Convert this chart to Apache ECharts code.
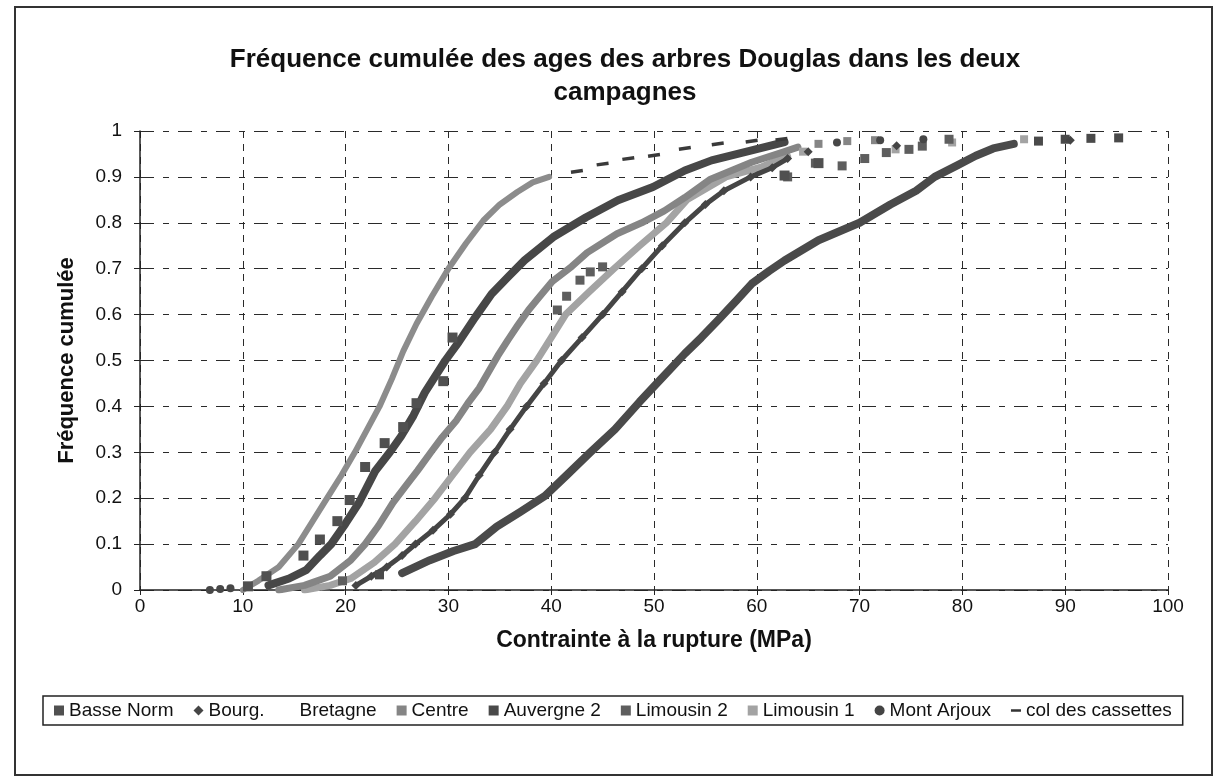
<!DOCTYPE html>
<html><head><meta charset="utf-8">
<script src="https://cdn.jsdelivr.net/npm/echarts@6/dist/echarts.min.js"></script>
<style>html,body{margin:0;padding:0;background:#fff}#c{width:1224px;height:782px}</style>
</head><body><div id="c"></div>
<script>
// ---- data: [contrainte MPa, fréquence cumulée] ----
const seriesNames = ['Basse Norm','Bourg.','Bretagne','Centre','Auvergne 2','Limousin 2','Limousin 1','Mont Arjoux','col des cassettes'];

const basseNorm = [[10.5,0.008],[12.3,0.03],[15.9,0.075],[17.5,0.11],[19.2,0.15],[20.4,0.196],[21.9,0.268],[23.8,0.32],[25.6,0.355],[26.9,0.407],[29.5,0.455],[30.4,0.55],[62.7,0.903],[66,0.93]];

const bourg = [[21,0.01],[22.5,0.03],[24,0.05],[25.5,0.075],[26.8,0.1],[28.5,0.13],[30.2,0.165],[31.6,0.2],[33,0.25],[34.5,0.3],[36,0.35],[37.6,0.4],[39.3,0.45],[41,0.5],[43,0.55],[45,0.6],[46.9,0.65],[48.8,0.7],[50.8,0.75],[53,0.8],[55,0.84],[56.8,0.87],[59.4,0.9],[61.5,0.92],[63,0.94]];
const bourgTail = [[65,0.955],[73.6,0.968],[90.5,0.98]];

const bretagne = [];

const centre = [[13.5,0],[16,0.01],[18.5,0.03],[20.5,0.065],[21.9,0.1],[23.2,0.14],[24.6,0.19],[25.8,0.225],[27,0.26],[28.3,0.3],[29.4,0.333],[30.8,0.37],[31.9,0.407],[33,0.44],[33.9,0.475],[34.8,0.51],[35.8,0.545],[36.7,0.575],[37.8,0.61],[38.9,0.64],[40.1,0.672],[42,0.705],[43.5,0.735],[46.4,0.776],[48.8,0.8],[51,0.826],[53,0.855],[55.5,0.895],[59.5,0.932],[62.7,0.955],[64,0.965]];
const centreTail = [[66,0.972],[68.8,0.978],[71.5,0.98]];

const auvergne2 = [[25.5,0.037],[28.2,0.065],[30.5,0.085],[32.6,0.1],[34.7,0.138],[37,0.17],[39.4,0.205],[41.5,0.25],[43.8,0.3],[46.2,0.35],[48.6,0.41],[50.7,0.46],[53,0.515],[54.6,0.55],[56.2,0.587],[58,0.63],[59.5,0.667],[61.2,0.695],[62.7,0.718],[66,0.762],[70,0.8],[73,0.84],[75.5,0.87],[77.3,0.9],[79.5,0.925],[81.3,0.946],[83,0.962],[85,0.972]];
const auvergne2Tail = [[23.3,0.033],[87.4,0.978],[90,0.982],[92.5,0.984],[95.2,0.985]];

const limousin2 = [[19.7,0.02],[40.6,0.61],[41.5,0.64],[42.8,0.675],[43.8,0.693],[45,0.704],[63,0.9],[65.7,0.93],[68.3,0.924],[70.5,0.94],[72.6,0.953],[74.8,0.96],[76.1,0.967],[78.7,0.982]];

const limousin1 = [[16,0],[18.5,0.01],[20.5,0.025],[22.8,0.06],[24.8,0.1],[26.8,0.15],[28.7,0.2],[30.4,0.25],[32.1,0.3],[34.1,0.35],[35.7,0.4],[37,0.45],[38.6,0.5],[40,0.55],[41.4,0.6],[43.7,0.65],[46.1,0.7],[48.6,0.75],[51.2,0.8],[53.2,0.85],[57,0.9],[60.5,0.922],[63,0.945]];
const limousin1Tail = [[64.5,0.955],[73.5,0.96],[79,0.975],[86,0.982]];

const montArjoux = [[12.5,0.01],[14.5,0.025],[16.2,0.044],[17.5,0.075],[18.6,0.1],[20,0.145],[21.3,0.19],[22.9,0.26],[24.3,0.3],[25.4,0.335],[26.6,0.38],[27.7,0.43],[29.7,0.5],[31,0.54],[32.6,0.594],[34.2,0.645],[35.8,0.682],[37.4,0.718],[40.2,0.769],[43.4,0.812],[46.5,0.849],[49.9,0.878],[53,0.914],[55.6,0.936],[59.5,0.958],[62.7,0.976]];
const montArjouxTail = [[6.8,0],[7.8,0.002],[8.8,0.004],[67.8,0.975],[72,0.98],[76.2,0.982]];

const colCassettes = [[10,0],[11.5,0.02],[13.5,0.05],[15.4,0.1],[16.8,0.15],[18.2,0.2],[19.6,0.25],[20.9,0.3],[22.1,0.35],[23.3,0.4],[24.5,0.46],[25.6,0.52],[26.9,0.58],[28.4,0.64],[30,0.7],[31.7,0.755],[33.4,0.805],[35,0.84],[36.7,0.867],[38.2,0.888],[39.8,0.9]];
const colCassettesTail = [[42.5,0.912],[45,0.928],[47.5,0.94],[50,0.947],[53,0.962],[56.2,0.972],[59.5,0.978],[62.4,0.982]];

const titleText = 'Fréquence cumulée des ages des arbres Douglas dans les deux\ncampagnes';
const xName = 'Contrainte à la rupture (MPa)';
const yName = 'Fréquence cumulée';

// ---- styling ----
const FONT = '"Liberation Sans", Arial, sans-serif';
const C = {
  'Basse Norm':'#505050', 'Bourg.':'#454545', 'Bretagne':'#ffffff', 'Centre':'#858585',
  'Auvergne 2':'#4a4a4a', 'Limousin 2':'#5e5e5e', 'Limousin 1':'#a3a3a3',
  'Mont Arjoux':'#474747', 'col des cassettes':'#8c8c8c'
};

function lineS(name, data, width, symbol, size, z) {
  return {name, type:'line', data, z: z||2, color:C[name], showSymbol: !!symbol, symbol: symbol||'none',
    symbolSize:size||6, lineStyle:{width, color:C[name], join:'round', cap:'round'},
    itemStyle:{color:C[name]}, emphasis:{disabled:true}, smooth:false};
}
function scatS(name, data, symbol, size, color, rotate, z) {
  return {name, type:'scatter', data, z: z||3, symbol, symbolSize:size, symbolRotate: rotate||0,
    itemStyle:{color: color||C[name], opacity:1}, emphasis:{disabled:true}};
}

const series = [
  lineS('Auvergne 2', auvergne2, 8, null, 0, 2),
  scatS('Auvergne 2', auvergne2Tail, 'rect', 9),
  lineS('Limousin 1', limousin1, 7, null, 0, 2),
  scatS('Limousin 1', limousin1Tail, 'rect', 8),
  lineS('Bourg.', bourg, 5, 'diamond', 9, 3),
  scatS('Bourg.', bourgTail, 'diamond', 9),
  lineS('Centre', centre, 7, null, 0, 3),
  scatS('Centre', centreTail, 'rect', 8),
  scatS('Limousin 2', limousin2, 'rect', 9),
  lineS('Mont Arjoux', montArjoux, 8, null, 0, 4),
  scatS('Mont Arjoux', montArjouxTail, 'circle', 8),
  scatS('Basse Norm', basseNorm, 'rect', 10, null, 0, 4),
  lineS('col des cassettes', colCassettes, 6, null, 0, 4),
  scatS('col des cassettes', colCassettesTail, 'rect', [12,3.5], '#3a3a3a', 8, 4),
  {name:'Bretagne', type:'scatter', data: bretagne, itemStyle:{color:C['Bretagne']}}
];

const legendIcons = {
  'Basse Norm':'rect','Bourg.':'diamond','Bretagne':'none','Centre':'rect','Auvergne 2':'rect',
  'Limousin 2':'rect','Limousin 1':'rect','Mont Arjoux':'circle',
  'col des cassettes':'path://M0,0 L0.01,0 L0.01,10 L0,10 Z M0,3.8 L10,3.8 L10,6.3 L0,6.3 Z'
};
const legendColors = {'col des cassettes':'#333333','Mont Arjoux':'#444444','Basse Norm':'#505050'};

const chart = echarts.init(document.getElementById('c'), null, {renderer:'canvas'});
chart.setOption({
  animation:false,
  backgroundColor:'#ffffff',
  textStyle:{fontFamily:FONT},
  title:{text:titleText, left:620, top:38, textAlign:'center',
    textStyle:{fontFamily:FONT, fontSize:26, fontWeight:'bold', color:'#111', lineHeight:33}},
  graphic:[{type:'rect', silent:true, shape:{x:15, y:7, width:1197, height:768},
    style:{fill:null, stroke:'#333', lineWidth:2}}],
  legend:{
    data: seriesNames.map(n => ({name:n, icon:legendIcons[n], itemStyle:{color: legendColors[n] || C[n]}})),
    left:43, top:696, orient:'horizontal', itemWidth:10, itemHeight:10, itemGap:20,
    padding:[5,11,5,11], borderColor:'#222', borderWidth:1.5, selectedMode:false,
    textStyle:{fontFamily:FONT, fontSize:19, color:'#111'}
  },
  grid:{left:140, right:56, top:131, bottom:192, containLabel:false},
  xAxis:{type:'value', min:0, max:100, interval:10,
    name:xName, nameLocation:'middle', nameGap:39,
    nameTextStyle:{fontFamily:FONT, fontSize:23, fontWeight:'bold', color:'#111'},
    axisLine:{show:true, onZero:false, lineStyle:{color:'#222', width:1.5}},
    axisTick:{show:true, length:5, lineStyle:{color:'#222'}},
    axisLabel:{fontFamily:FONT, fontSize:19, color:'#111', margin:7},
    splitLine:{show:true, lineStyle:{color:'#2a2a2a', width:1, type:[7,6]}}
  },
  yAxis:{type:'value', min:0, max:1, interval:0.1,
    name:yName, nameLocation:'middle', nameGap:62, nameRotate:90,
    nameTextStyle:{fontFamily:FONT, fontSize:22, fontWeight:'bold', color:'#111'},
    axisLine:{show:true, lineStyle:{color:'#222', width:1.5}},
    axisTick:{show:true, length:6, lineStyle:{color:'#222'}},
    axisLabel:{fontFamily:FONT, fontSize:19, color:'#111', margin:18},
    splitLine:{show:true, lineStyle:{color:'#2a2a2a', width:1, type:[14,9,6,9]}}
  },
  series
});
</script></body></html>
